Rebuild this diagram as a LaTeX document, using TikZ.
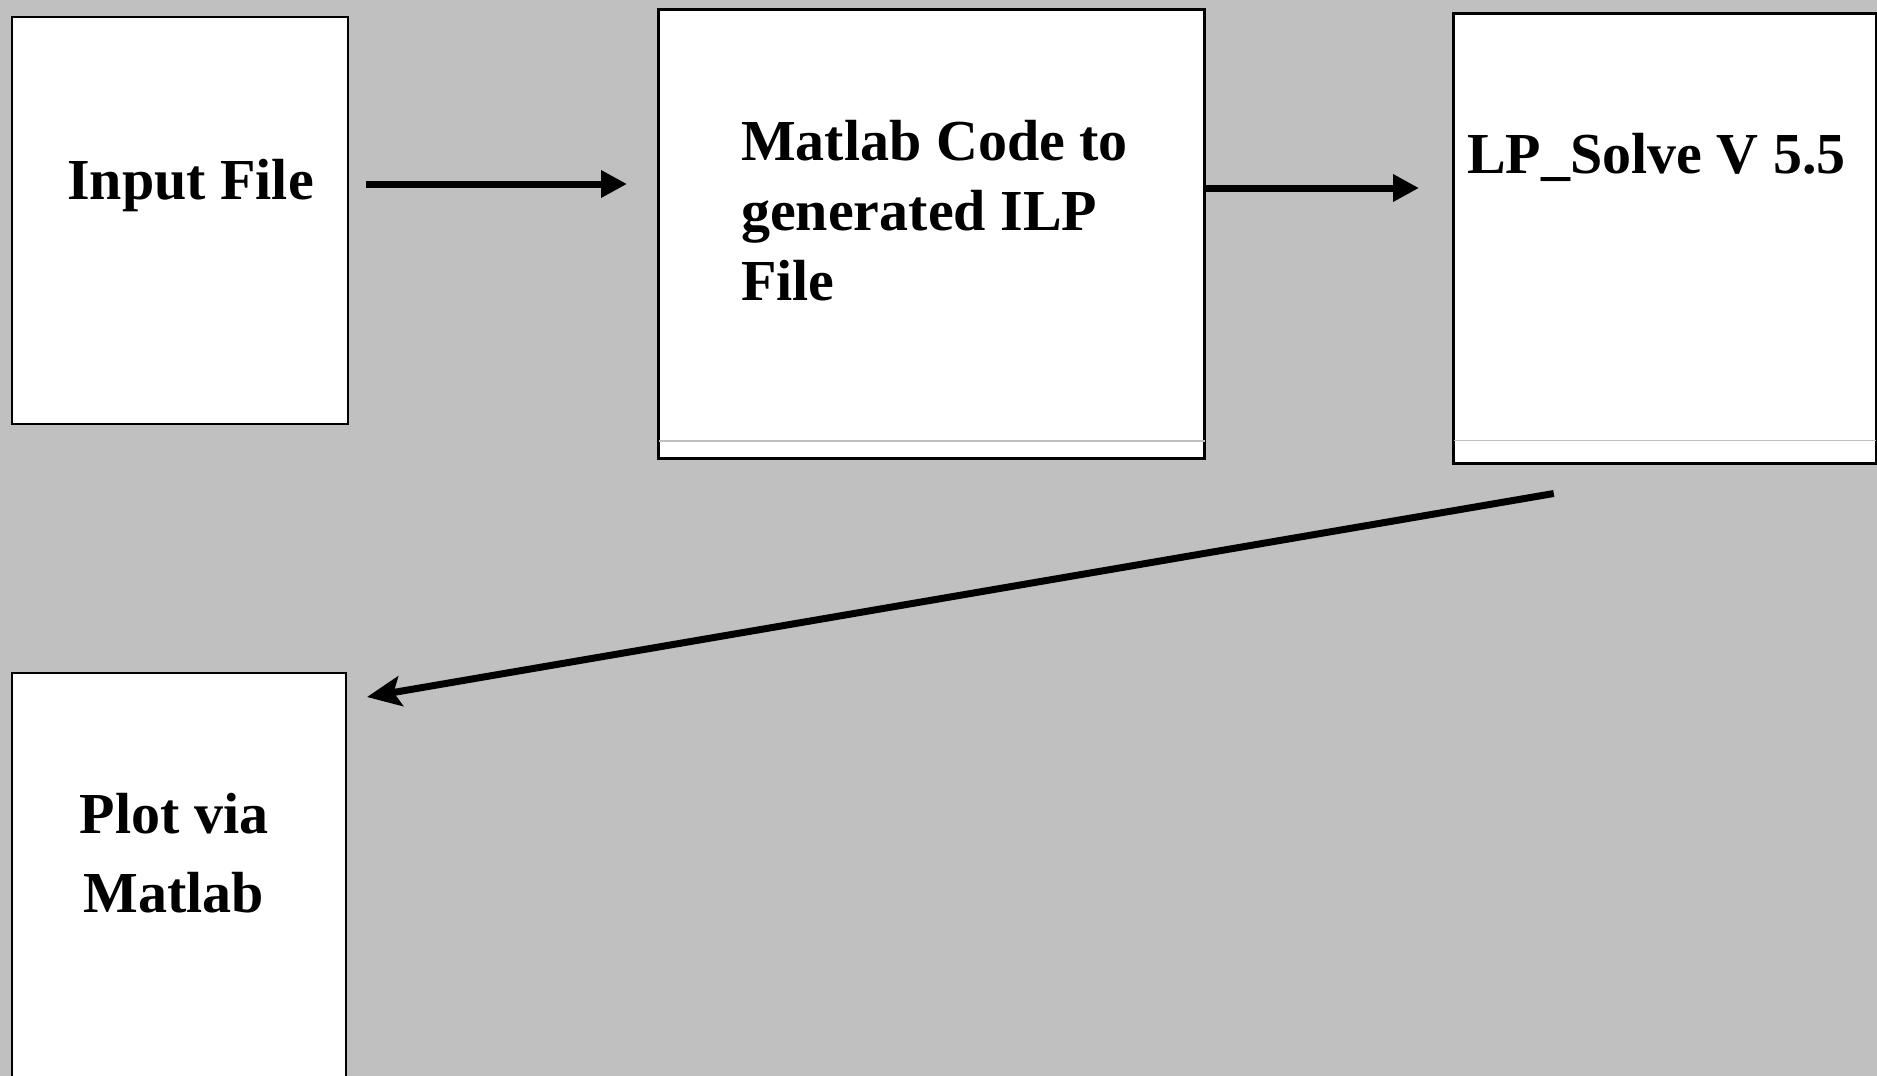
\documentclass[tikz,border=0pt]{standalone}
\usepackage{fontspec}
\setmainfont{Liberation Serif}
\usetikzlibrary{arrows.meta}
\definecolor{bggray}{RGB}{192,192,192}
\begin{document}
\begin{tikzpicture}[x=1pt,y=-1pt,
 box/.style={draw=black, fill=white, line width=2pt, inner sep=0pt, anchor=north west},
 lbl/.style={font=\fontsize{58}{70}\selectfont\bfseries, inner sep=0pt, anchor=base west, align=left},
 arr/.style={line width=7pt, -{Triangle[length=26pt,width=26pt]}},
 arrb/.style={line width=7pt, -{Stealth[length=34pt,width=30pt,inset=7pt]}},
 sepline/.style={draw=bggray, line width=1.5pt, shorten <=1.5pt, shorten >=1.5pt}]
\useasboundingbox (0,0) rectangle (1877,1076);
\clip (0,0) rectangle (1877,1076);
\fill[bggray] (0,0) rectangle (1877,1076);
% boxes
\node[box, minimum width=336pt, minimum height=407pt] (input) at (11,16) {};
\node[box, line width=3pt, minimum width=546pt, minimum height=449pt] (matlab) at (657,8) {};
\node[box, line width=2.5pt, minimum width=423pt, minimum height=450pt] (lp) at (1452,12) {};
\node[box, minimum width=334pt, minimum height=430pt] (plot) at (11,672) {};
% separator lines near box bottoms
\draw[sepline] ([yshift=19pt]matlab.south west) -- ([yshift=19pt]matlab.south east);
\draw[sepline] ([yshift=24pt]lp.south west) -- ([yshift=24pt]lp.south east);
% texts (base anchor = baseline of the last line)
\node[lbl] (tin) at (67,199) {Input File};
\node[lbl] (tm) at (741,300) {Matlab Code to\\generated ILP\\File};
\node[lbl] (tlp) at (1467,173) {LP\_Solve V 5.5};
\node[lbl, anchor=base, align=center, font=\fontsize{58}{79}\selectfont\bfseries] (tp) at (174,912) {Plot via\\Matlab};
% connectors
\coordinate (y1) at (0,184);
\coordinate (y2) at (0,188);
\draw[arr, shorten <=17pt, shorten >=30pt] (input.east |- y1) -- (matlab.west |- y1);
\draw[arr, shorten >=33pt] (matlab.east |- y2) -- (lp.west |- y2);
\draw[arrb] ([shift={(-111,29)}]lp.south) -- ([shift={(20,25)}]plot.north east);
\end{tikzpicture}
\end{document}
